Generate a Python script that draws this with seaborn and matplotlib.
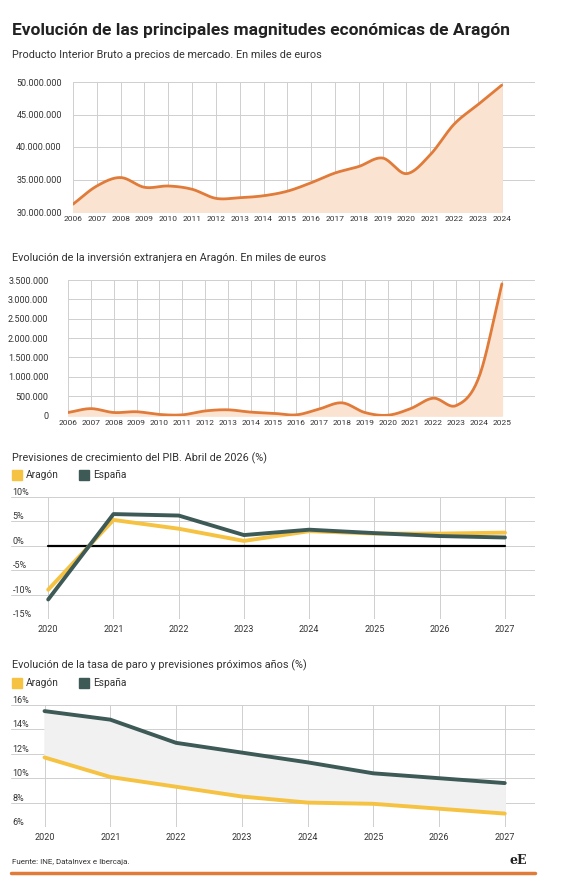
import numpy as np
import pandas as pd
import matplotlib
matplotlib.use("Agg")
import matplotlib.pyplot as plt
import seaborn as sns
from matplotlib.patches import Rectangle
from matplotlib.lines import Line2D

# datos
pib_years = list(range(2006, 2025))
pib_values = [31.2, 34.0, 35.3, 33.8, 34.0, 33.5, 32.1, 32.2, 32.5, 33.2,
              34.5, 36.0, 37.0, 38.3, 35.9, 38.8, 43.5, 46.5, 49.5]  # millones de miles

inv_years = list(range(2006, 2026))
inv_values = [80, 180, 80, 100, 30, 20, 120, 150, 90, 60,
              20, 170, 330, 80, 10, 180, 450, 260, 1000, 3400]  # miles de miles

prev_years = list(range(2020, 2028))
crec_aragon = [-9.0, 5.3, 3.5, 1.0, 3.0, 2.5, 2.5, 2.7]
crec_espana = [-11.0, 6.5, 6.2, 2.2, 3.3, 2.6, 2.0, 1.7]
paro_aragon = [11.7, 10.1, 9.3, 8.5, 8.0, 7.9, 7.5, 7.1]
paro_espana = [15.5, 14.8, 12.9, 12.1, 11.3, 10.4, 10.0, 9.6]

NARANJA = "#e07b39"
RELLENO = "#fbe3d2"
AMARILLO = "#f5c242"
VERDE = "#3d5a57"
TXT = "#333333"

sns.set_theme(style="white")
plt.rcParams['font.family'] = ['Roboto', 'DejaVu Sans']

W, H = 568, 890
fig = plt.figure(figsize=(W / 100, H / 100), dpi=100)


def box(l, r, t, b):
    return [l / W, 1 - b / H, (r - l) / W, (b - t) / H]


def suave(x, y, n=20):
    # curva catmull-rom solo para dibujar
    x = np.asarray(x, float); y = np.asarray(y, float)
    px = np.concatenate([[2 * x[0] - x[1]], x, [2 * x[-1] - x[-2]]])
    py = np.concatenate([[2 * y[0] - y[1]], y, [2 * y[-1] - y[-2]]])
    xs, ys = [], []
    t = np.linspace(0, 1, n, endpoint=False)
    for i in range(1, len(px) - 2):
        for arr, out in ((px, xs), (py, ys)):
            p0, p1, p2, p3 = arr[i - 1:i + 3]
            out.extend(0.5 * (2 * p1 + (-p0 + p2) * t + (2 * p0 - 5 * p1 + 4 * p2 - p3) * t ** 2
                              + (-p0 + 3 * p1 - 3 * p2 + p3) * t ** 3))
    xs.append(x[-1]); ys.append(y[-1])
    return np.array(xs), np.array(ys)


def fmt_es(v):
    return f"{int(v):,}".replace(",", ".")


def estilo(ax):
    for s in ax.spines.values():
        s.set_visible(False)
    ax.tick_params(length=0, labelsize=6.5, labelcolor=TXT)
    ax.set_xlabel(""); ax.set_ylabel("")


fig.text(12 / W, 1 - 30 / H, "Evolución de las principales magnitudes económicas de Aragón",
         fontsize=12.5, fontweight="bold", color="#222222", va="center")

# 1. PIB
ax1 = fig.add_axes(box(73, 535, 82, 212))
df1 = pd.DataFrame({"year": pib_years, "pib": np.array(pib_values) * 1e6})
sx, sy = suave(df1.year, df1.pib)
ax1.fill_between(sx, 30e6, sy, color=RELLENO, zorder=1)
ax1.plot(sx, sy, color=NARANJA, lw=2, zorder=3)
ax1.set_xlim(2006, 2025.4); ax1.set_ylim(30e6, 50e6)
ax1.set_yticks(np.arange(30e6, 50.1e6, 5e6))
ax1.set_yticklabels([fmt_es(v) for v in np.arange(30e6, 50.1e6, 5e6)])
ax1.set_xticks(pib_years)
ax1.set_xticklabels(pib_years, fontsize=6)
ax1.grid(True, color="#cfcfcf", lw=0.7)
ax1.set_axisbelow(True)
estilo(ax1)
ax1.tick_params(axis="y", pad=8)
ax1.tick_params(axis="x", labelsize=6, pad=3)
fig.text(12 / W, 1 - 55 / H, "Producto Interior Bruto a precios de mercado. En miles de euros",
         fontsize=7.8, color=TXT, va="center")

# 2. Inversión
ax2 = fig.add_axes(box(68, 535, 280, 416))
df2 = pd.DataFrame({"year": inv_years, "inv": np.array(inv_values) * 1e3})
sx, sy = suave(df2.year, df2.inv)
sy = np.clip(sy, 0, None)
ax2.fill_between(sx, 0, sy, color=RELLENO, zorder=1)
ax2.plot(sx, sy, color=NARANJA, lw=2, zorder=3)
ax2.set_xlim(2006, 2026.45); ax2.set_ylim(-10e3, 3.5e6)
yt = np.arange(0, 3.51e6, 5e5)
ax2.set_yticks(yt); ax2.set_yticklabels([fmt_es(v) for v in yt])
ax2.set_xticks(inv_years); ax2.set_xticklabels(inv_years)
ax2.grid(True, color="#cfcfcf", lw=0.7)
ax2.set_axisbelow(True)
estilo(ax2)
ax2.tick_params(axis="y", pad=14)
ax2.tick_params(axis="x", labelsize=6, pad=3)
fig.text(12 / W, 1 - 258 / H, "Evolución de la inversión extranjera en Aragón. En miles de euros",
         fontsize=7.8, color=TXT, va="center")


def leyenda(y):
    for x0, col, lab in ((12, AMARILLO, "Aragón"), (79, VERDE, "España")):
        fig.patches.append(Rectangle((x0 / W, 1 - (y + 5) / H), 10 / W, 10 / H,
                                     transform=fig.transFigure, color=col))
        fig.text((x0 + 14) / W, 1 - y / H, lab, fontsize=7.3, color=TXT, va="center")


def grafico_prev(ax, a, e, ylim, yt):
    df = pd.DataFrame({"year": prev_years * 2, "v": a + e,
                       "serie": ["Aragón"] * 8 + ["España"] * 8})
    sns.lineplot(data=df, x="year", y="v", hue="serie", palette=[AMARILLO, VERDE],
                 lw=2.8, legend=False, ax=ax, zorder=3)
    ax.set_xlim(2019.43, 2027.46); ax.set_ylim(*ylim)
    ax.set_yticks(yt); ax.set_yticklabels([f"{v}%" for v in yt])
    ax.set_xticks(prev_years); ax.set_xticklabels(prev_years)
    ax.grid(True, color="#cfcfcf", lw=0.7)
    ax.set_axisbelow(True)
    estilo(ax)
    ax.tick_params(axis="y", pad=-1)
    for lb in ax.get_yticklabels():
        lb.set_ha("left"); lb.set_va("bottom")
    ax.tick_params(axis="x", labelsize=6.5, pad=4)
    for lab in ax.get_yticklabels():
        lab.set_x(0.0)


# 3. Crecimiento
ax3 = fig.add_axes(box(11, 535, 497, 619))
ax3.set_xlim(2019.43, 2027.46)
ax3.plot([2020, 2027], [0, 0], color="black", lw=1.6, zorder=2)
grafico_prev(ax3, crec_aragon, crec_espana, (-15, 10), [-15, -10, -5, 0, 5, 10])
ax3.xaxis.grid(True); ax3.set_xlim(2019.43, 2027.46)
ax3.set_xticks(prev_years)
fig.text(12 / W, 1 - 458 / H, "Previsiones de crecimiento del PIB. Abril de 2026 (%)",
         fontsize=7.8, color=TXT, va="center")
leyenda(475)

# 4. Paro
ax4 = fig.add_axes(box(11, 535, 705, 827))
ax4.fill_between(prev_years, paro_aragon, paro_espana, color="#f1f1f1", zorder=1)
grafico_prev(ax4, paro_aragon, paro_espana, (6, 16), [6, 8, 10, 12, 14, 16])
ax4.set_xlim(2019.49, 2027.46)
fig.text(12 / W, 1 - 665 / H, "Evolución de la tasa de paro y previsiones próximos años (%)",
         fontsize=7.8, color=TXT, va="center")
leyenda(683)

# pie
fig.text(12 / W, 1 - 862 / H, "Fuente: INE, DataInvex e Ibercaja.", fontsize=5.8, color=TXT, va="center")
fig.text(518 / W, 1 - 860 / H, "eE", fontsize=9, fontweight="bold", family="DejaVu Serif",
         color="#222222", va="center", ha="center")
fig.lines.append(Line2D([11 / W, 535 / W], [1 - 873 / H] * 2, transform=fig.transFigure,
                        color=NARANJA, lw=2.5))

fig.savefig("out.png", dpi=100, facecolor="white")
